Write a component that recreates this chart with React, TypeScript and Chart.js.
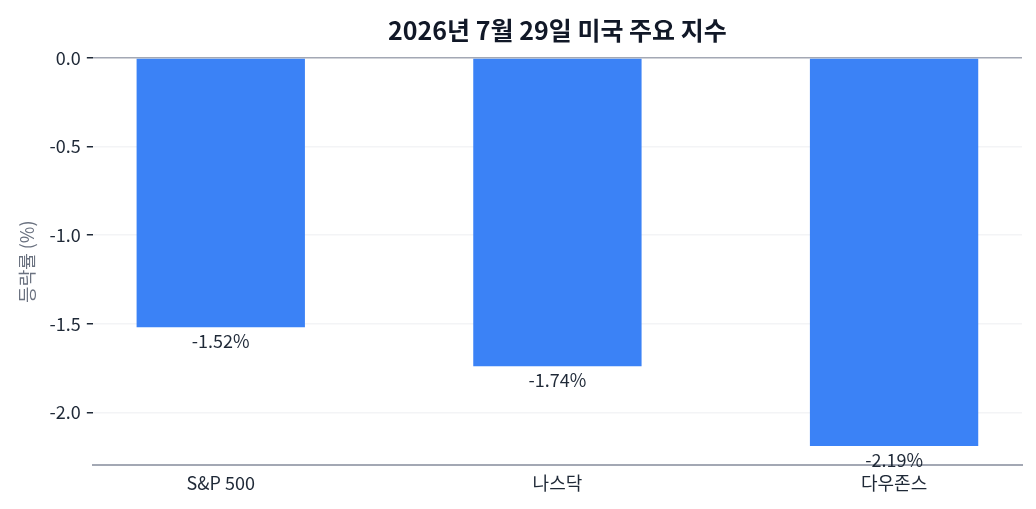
import React, { useEffect, useRef } from "react";
import { Chart, registerables } from "chart.js";

Chart.register(...registerables);

const categories = ["S&P 500", "나스닥", "다우존스"];
const changes = [-1.52, -1.74, -2.19];
const yTicks = [0, -0.5, -1.0, -1.5, -2.0];
const titleText = "2026년 7월 29일 미국 주요 지수";
const yAxisTitle = "등락률 (%)";

const FONT = "'Noto Sans CJK KR', 'Noto Sans', sans-serif";

const labelPlugin = {
  id: "barLabels",
  afterDatasetsDraw(chart: any) {
    const ctx = chart.ctx;
    const meta = chart.getDatasetMeta(0);
    ctx.save();
    ctx.font = `18px ${FONT}`;
    ctx.fillStyle = "#1f2937";
    ctx.textAlign = "center";
    ctx.textBaseline = "middle";
    meta.data.forEach((bar: any, i: number) => {
      const v = changes[i];
      ctx.fillText(`${v.toFixed(2)}%`, bar.x, bar.y + 14);
    });
    ctx.restore();
  },
};

export default function App() {
  const ref = useRef<HTMLCanvasElement>(null);
  useEffect(() => {
    if (!ref.current) return;
    const chart = new Chart(ref.current, {
      type: "bar",
      data: {
        datasets: [
          {
            data: changes.map((v, i) => ({ x: i, y: v })),
            backgroundColor: "#3b82f6",
            barPercentage: 1,
            categoryPercentage: 0.5,
          },
        ],
      },
      plugins: [labelPlugin],
      options: {
        animation: false,
        responsive: true,
        maintainAspectRatio: false,
        layout: { padding: { left: 8, right: 6, top: 3, bottom: 0 } },
        plugins: {
          legend: { display: false },
          tooltip: { enabled: false },
          title: {
            display: true,
            text: titleText,
            fullSize: false,
            color: "#111827",
            font: { family: FONT, size: 25, weight: "bold" },
            padding: { top: 4, bottom: 13 },
          },
        },
        scales: {
          x: {
            type: "linear",
            min: -0.38,
            max: 2.38,
            offset: false,
            afterBuildTicks: (axis: any) => {
              axis.ticks = categories.map((_, i) => ({ value: i }));
            },
            grid: { display: false, drawTicks: false },
            border: { display: true, color: "#a3a8b4", width: 2 },
            ticks: {
              color: "#1f2937",
              font: { family: FONT, size: 18 },
              padding: 7,
              callback: (v: any) => categories[Math.round(Number(v))] ?? "",
            },
          },
          y: {
            min: -2.3,
            max: 0,
            afterBuildTicks: (axis: any) => {
              axis.ticks = yTicks.map((v) => ({ value: v }));
            },
            ticks: {
              color: "#1f2937",
              font: { family: FONT, size: 18 },
              padding: 6,
              callback: (v: any) => Number(v).toFixed(1),
            },
            grid: {
              color: (c: any) =>
                c.tick && c.tick.value === 0 ? "#a3a8b4" : "#f3f4f6",
              lineWidth: 1.5,
              tickColor: "#1f2937",
              tickLength: 6,
            },
            border: { display: false },
            title: {
              display: true,
              text: yAxisTitle,
              color: "#6b7280",
              font: { family: FONT, size: 18 },
              padding: { top: 0, bottom: 6 },
            },
          },
        },
      },
    });
    return () => chart.destroy();
  }, []);
  return (
    <div style={{ width: 1020, height: 493 }}>
      <canvas ref={ref} />
    </div>
  );
}
